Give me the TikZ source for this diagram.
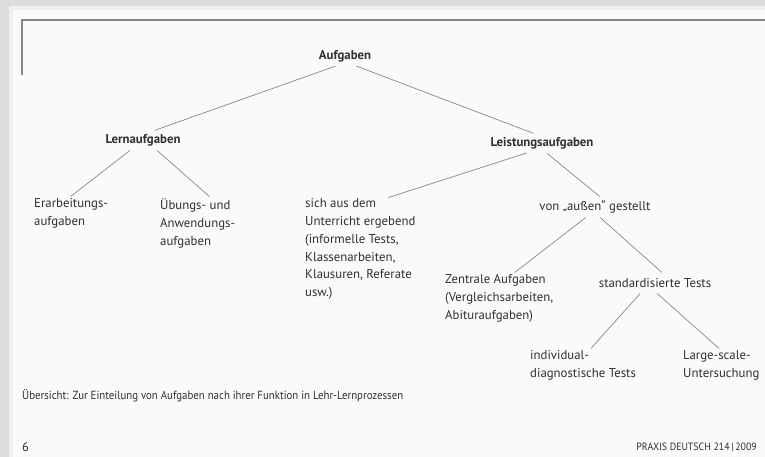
\documentclass[tikz,border=0pt]{standalone}
\usepackage{fontspec}
\setmainfont{PT Sans}
\definecolor{inkgray}{HTML}{303030}
\definecolor{linegray}{HTML}{888888}
\definecolor{pagegray}{HTML}{FAFAFA}
\definecolor{shadowgray}{HTML}{DCDCDC}
\begin{document}
\begin{tikzpicture}[x=1pt,y=-1pt,
    headtext/.style={font=\fontsize{12.8}{17.8}\selectfont\bfseries, text=inkgray,
      inner sep=0pt, execute at begin node=\strut},
    bodytext/.style={font=\fontsize{12.8}{17.8}\selectfont, text=inkgray,
      inner sep=0pt, align=left, execute at begin node=\strut},
    smalltext/.style={font=\fontsize{11.8}{13}\selectfont, text=inkgray, inner sep=0pt},
    branch/.style={draw=linegray, line width=0.7pt, shorten <=1.5pt, shorten >=3pt}]
   \useasboundingbox (0,0) rectangle (765,457);

   % Page and shadow
   \fill[shadowgray] (0,0) rectangle (765,457);
   \fill[gray!12] (9,6) rectangle (765,457);
   \fill[pagegray] (13,10) rectangle (765,457);

   % Frame
   \draw[linegray, line width=1.1pt] (22,75) -- (22,20) -- (765,20);

   % Top level
   \node[headtext, anchor=base] (aufg) at (345,60) {Aufgaben};
   \node[headtext, anchor=base] (lern) at (143,144) {Lernaufgaben};
   \node[headtext, anchor=base] (leist) at (542,147) {Leistungsaufgaben};

   % Lernaufgaben
   \node[bodytext, anchor=north west] (erarb) at (34,198.5) {Erarbeitungs-\\aufgaben};
   \node[bodytext, anchor=north west] (uebung) at (160,198.5) {Übungs- und\\Anwendungs-\\aufgaben};

   % Leistungsaufgaben
   \node[bodytext, anchor=north west] (unterricht) at (305,198.5)
      {sich aus dem\\Unterricht ergebend\\(informelle Tests,\\Klassenarbeiten,\\Klausuren, Referate\\usw.)};
   \node[bodytext, anchor=base] (aussen) at (595,211) {von „außen“ gestellt};
   \node[bodytext, anchor=north west] (zentral) at (445,274.5)
      {Zentrale Aufgaben\\(Vergleichsarbeiten,\\Abituraufgaben)};
   \node[bodytext, anchor=base] (standard) at (655,287) {standardisierte Tests};
   \node[bodytext, anchor=north west] (indiv) at (530,350.5) {individual-\\diagnostische Tests};
   \node[bodytext, anchor=north west] (large) at (683,350.5) {Large-scale-\\Untersuchung};

   % Branches
   \draw[branch] ([xshift=-8pt]aufg.south) -- ([xshift=9pt]lern.north);
   \draw[branch] ([xshift=10pt]aufg.south) -- ([xshift=-6pt]leist.north);
   \draw[branch] ([xshift=-12pt]lern.south) -- ([xshift=-3pt]erarb.north);
   \draw[branch] ([xshift=13pt]lern.south) -- ([xshift=14pt]uebung.north);
   \draw[branch] ([xshift=-14pt]leist.south) -- ([xshift=25pt]unterricht.north);
   \draw[branch] ([xshift=4pt]leist.south) -- ([xshift=7pt]aussen.north);
   \draw[branch] ([xshift=-8pt]aussen.south) -- ([xshift=13pt]zentral.north);
   \draw[branch] ([xshift=4pt]aussen.south) -- ([xshift=9pt]standard.north);
   \draw[branch] ([xshift=-14pt]standard.south) -- ([xshift=6pt]indiv.north);
   \draw[branch] ([xshift=1pt]standard.south) -- (large.north);

   % Caption and footer
   \node[smalltext, anchor=base west] (caption) at (22,399)
      {\scalebox{0.92}[1]{Übersicht: Zur Einteilung von Aufgaben nach ihrer Funktion in Lehr-Lernprozessen}};
   \node[smalltext, anchor=base west, font=\fontsize{12.5}{14}\selectfont] (pagenum) at (22,451) {6};
   \node[smalltext, anchor=base east, font=\fontsize{10.6}{13}\selectfont] (journal) at (757,450)
      {\scalebox{0.93}[1]{PRAXIS DEUTSCH 214\,|\,2009}};
\end{tikzpicture}
\end{document}
